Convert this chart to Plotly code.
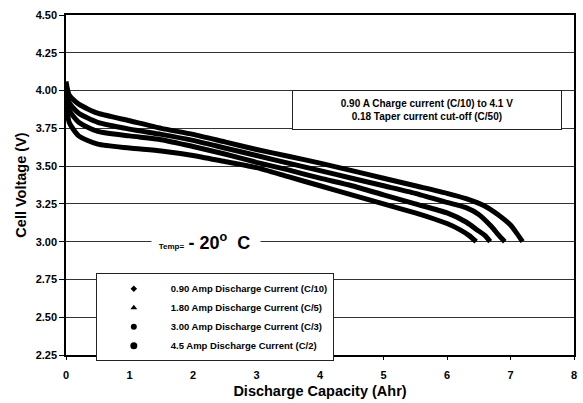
import plotly.graph_objects as go

# ---- data ----
cap_090 = [0, 0.05, 0.2, 0.5, 1.0, 1.5, 2.0, 2.5, 3.0, 3.5, 4.0, 4.5, 5.0, 5.5, 6.0, 6.3, 6.6, 6.8, 7.0, 7.1, 7.19]
v_090 = [4.06, 3.97, 3.91, 3.85, 3.80, 3.75, 3.71, 3.66, 3.61, 3.565, 3.52, 3.47, 3.42, 3.37, 3.32, 3.285, 3.235, 3.18, 3.11, 3.055, 3.00]

cap_180 = [0, 0.05, 0.2, 0.5, 1.0, 1.5, 2.0, 2.5, 3.0, 3.5, 4.0, 4.5, 5.0, 5.5, 6.0, 6.3, 6.5, 6.7, 6.8, 6.91]
v_180 = [4.03, 3.92, 3.85, 3.79, 3.745, 3.71, 3.67, 3.62, 3.57, 3.52, 3.47, 3.42, 3.37, 3.32, 3.26, 3.225, 3.18, 3.10, 3.05, 3.00]

cap_300 = [0, 0.05, 0.2, 0.5, 1.0, 1.5, 2.0, 2.5, 3.0, 3.5, 4.0, 4.5, 5.0, 5.5, 6.0, 6.3, 6.5, 6.6, 6.68]
v_300 = [3.99, 3.87, 3.79, 3.73, 3.70, 3.675, 3.63, 3.58, 3.525, 3.475, 3.42, 3.37, 3.31, 3.25, 3.19, 3.13, 3.07, 3.04, 3.00]

cap_450 = [0, 0.05, 0.2, 0.5, 1.0, 1.5, 2.0, 2.5, 3.0, 3.5, 4.0, 4.5, 5.0, 5.5, 5.8, 6.0, 6.2, 6.35, 6.46]
v_450 = [3.95, 3.79, 3.70, 3.645, 3.62, 3.60, 3.57, 3.53, 3.49, 3.43, 3.37, 3.31, 3.25, 3.19, 3.15, 3.12, 3.08, 3.04, 3.00]

series_names = [
    "0.90 Amp Discharge Current (C/10)",
    "1.80 Amp Discharge Current (C/5)",
    "3.00 Amp Discharge Current (C/3)",
    "4.5 Amp Discharge Current (C/2)",
]
legend_symbols = ["diamond", "triangle-up", "circle", "circle"]
legend_sizes = [5, 6, 6, 7]

x_ticks = [0, 1, 2, 3, 4, 5, 6, 7, 8]
y_ticks = [2.25, 2.50, 2.75, 3.00, 3.25, 3.50, 3.75, 4.00, 4.25, 4.50]

FONT = "Arial, Liberation Sans, sans-serif"

fig = go.Figure()
curves = [(cap_090, v_090), (cap_180, v_180), (cap_300, v_300), (cap_450, v_450)]
for (cx, cy) in curves:
    fig.add_trace(go.Scatter(
        x=cx, y=cy, mode="lines",
        line=dict(color="black", width=5, shape="spline", smoothing=0.6),
        showlegend=False, hoverinfo="skip",
    ))
for name, sym, sz in zip(series_names, legend_symbols, legend_sizes):
    fig.add_trace(go.Scatter(
        x=[None], y=[None], mode="markers", name=name,
        marker=dict(color="black", symbol=sym, size=sz),
    ))

fig.update_layout(
    width=583, height=403,
    margin=dict(l=66, r=6, t=15, b=47),
    paper_bgcolor="white", plot_bgcolor="white",
    font=dict(family=FONT, color="black"),
    legend=dict(
        x=0.0587, y=0.2405, xanchor="left", yanchor="top",
        bgcolor="white", bordercolor="#222", borderwidth=1,
        font=dict(size=9.5, weight="bold", family=FONT),
        itemwidth=64, tracegroupgap=0,
    ),
    xaxis=dict(
        range=[0, 8], tickvals=x_ticks, ticktext=[str(v) for v in x_ticks],
        showgrid=False, zeroline=False,
        showline=True, linecolor="black", linewidth=1.5, mirror=True,
        ticks="outside", ticklen=3, tickcolor="black", ticklabelstandoff=6,
        tickfont=dict(size=11, weight="bold"),
        title=dict(text="Discharge Capacity (Ahr)", font=dict(size=14.5, weight="bold"), standoff=6),
    ),
    yaxis=dict(
        range=[2.25, 4.5], tickvals=y_ticks, ticktext=["%.2f" % v for v in y_ticks],
        showgrid=True, gridcolor="#333", gridwidth=1, zeroline=False,
        showline=True, linecolor="black", linewidth=1.5, mirror=True,
        ticks="outside", ticklen=5, tickcolor="black",
        tickfont=dict(size=11, weight="bold"),
        title=dict(text="Cell Voltage (V)", font=dict(size=14.5, weight="bold"), standoff=6),
    ),
    annotations=[
        dict(
            xref="paper", yref="paper", x=0.71, y=0.721,
            xanchor="center", yanchor="middle",
            text="0.90 A Charge current (C/10) to 4.1 V<br>0.18 Taper current cut-off (C/50)",
            showarrow=False, align="center",
            font=dict(size=10, weight="bold", family=FONT),
            bgcolor="white", bordercolor="#222", borderwidth=1,
            width=262, height=32, borderpad=3,
        ),
        dict(
            xref="paper", yref="paper", x=0.168, y=0.334, xanchor="left", yanchor="middle",
            text="<span style='font-size:8px'>   Temp=  </span>- 20<sup>o</sup>  C  ",
            showarrow=False, font=dict(size=18, weight="bold", family=FONT),
            bgcolor="white", borderpad=0,
        ),
    ],
)

fig.write_html("out.html")
